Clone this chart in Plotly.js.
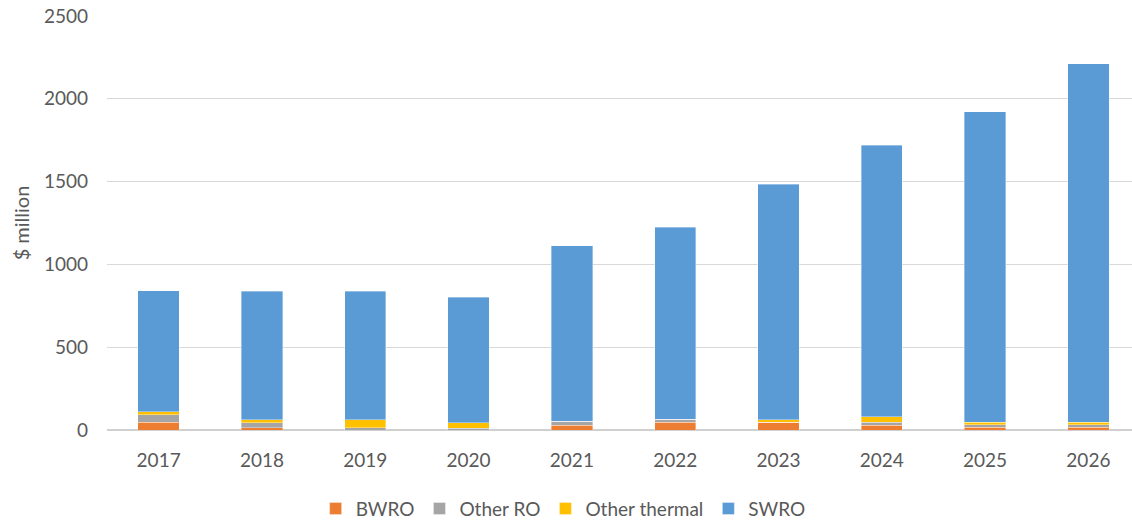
<!DOCTYPE html>
<html>
<head>
<meta charset="utf-8">
<script src="https://cdn.plot.ly/plotly-3.0.1.min.js"></script>
<style>html,body{margin:0;padding:0;background:#fff;}#chart{width:1132px;height:522px;}</style>
</head>
<body>
<div id="chart"></div>
<script>
const years = ['2017','2018','2019','2020','2021','2022','2023','2024','2025','2026'];
const bwro = [47, 15, 0, 0, 29, 47, 47, 29, 17, 17];
const otherRO = [46, 30, 15, 12, 24, 18, 0, 18, 14, 14];
const otherThermal = [18, 18, 48, 32, 0, 0, 16, 32, 16, 16];
const swro = [729, 775, 775, 758, 1060, 1160, 1420, 1640, 1875, 2166];

const seriesNames = ['BWRO', 'Other RO', 'Other thermal', 'SWRO'];
const seriesColors = ['#ED7D31', '#A5A5A5', '#FFC000', '#5B9BD5'];
const seriesData = [bwro, otherRO, otherThermal, swro];

const traces = seriesData.map((vals, i) => ({
  type: 'bar',
  name: seriesNames[i],
  x: years,
  y: vals,
  width: 0.4,
  marker: {color: seriesColors[i], line: {color: 'rgba(255,255,255,0.6)', width: 0.6}},
  hoverinfo: 'x+y+name'
}));

const font = {family: 'Lato, "Open Sans", sans-serif', size: 19, color: '#595959'};

const layout = {
  width: 1132, height: 522,
  barmode: 'stack',
  bargap: 0.6,
  margin: {l: 107, r: 0, t: 15.5, b: 91.5, autoexpand: false},
  paper_bgcolor: '#fff', plot_bgcolor: '#fff',
  font: font,
  showlegend: true,
  legend: {
    orientation: 'h', x: 0.445, xanchor: 'center', y: -0.19, yanchor: 'middle',
    font: font, traceorder: 'normal', itemwidth: 30
  },
  xaxis: {
    type: 'category', range: [-0.5, 9.422],
    showgrid: false, zeroline: false, showline: false, ticks: '',
    tickfont: font, ticklabelstandoff: 17
  },
  yaxis: {
    range: [0, 2500], dtick: 500, tick0: 0,
    showgrid: true, gridcolor: '#D9D9D9', gridwidth: 1,
    zeroline: true, zerolinecolor: '#D0D0D0', zerolinewidth: 2,
    showline: false, ticks: '', tickfont: font, ticklabelstandoff: 18,
    title: {text: '$ million', font: {family: font.family, size: 20, color: '#595959'}, standoff: 8}
  }
};

Plotly.newPlot('chart', traces, layout, {displayModeBar: false, staticPlot: true});
</script>
</body>
</html>
